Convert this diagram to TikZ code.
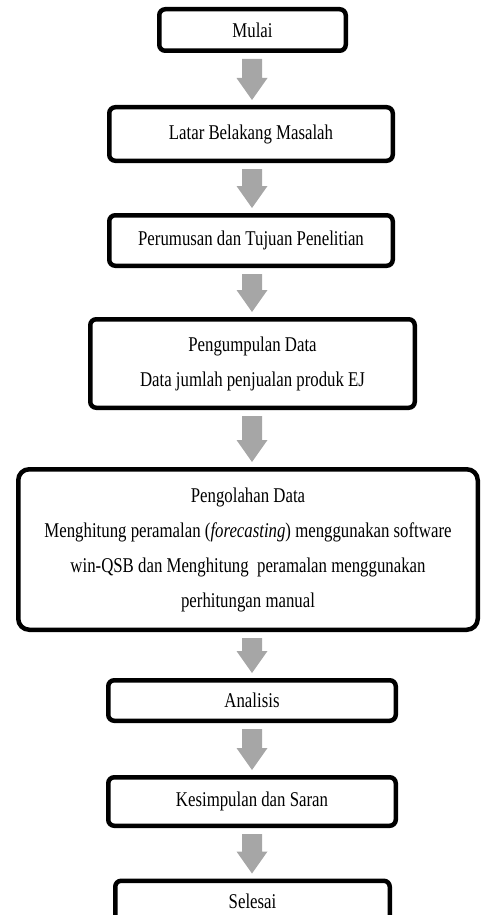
\documentclass[tikz,border=0pt]{standalone}
\usepackage{fontspec}
\setmainfont{Liberation Serif}[FakeStretch=0.8]
\usetikzlibrary{calc}
\definecolor{arrgray}{RGB}{166,166,166}
\tikzset{
  box/.style={draw=black, line width=4.5pt, rounded corners=6pt, fill=white,
    inner sep=0pt, align=center, font=\fontsize{21}{35}\selectfont},
  bigbox/.style={box, rounded corners=11pt},
  blockarrow/.style={fill=arrgray, draw=none},
}
\newcommand\flowarrow[2]{%
  \fill[blockarrow] let \p1=(#1.south), \p2=(#2.north) in
    (242pt,\y1-6pt) -- (262pt,\y1-6pt) -- (262pt,\y2+27pt) -- (267.5pt,\y2+27pt)
    -- (252pt,\y2+5pt) -- (236.5pt,\y2+27pt) -- (242pt,\y2+27pt) -- cycle;}
\begin{document}
\begin{tikzpicture}[x=1pt,y=-1pt]
\useasboundingbox (0,0) rectangle (483,915);
\node[box, minimum width=186.5pt, minimum height=41.5pt] (mulai) at (252.5,30) {Mulai};
\node[box, minimum width=283.5pt, minimum height=53.5pt] (latar) at (251,134) {Latar Belakang Masalah};
\node[box, minimum width=283.5pt, minimum height=50.5pt] (rumus) at (251,240.5) {Perumusan dan Tujuan Penelitian};
\node[box, minimum width=324.5pt, minimum height=88.5pt] (kumpul) at (252.5,363.5) {Pengumpulan Data\\Data jumlah penjualan produk EJ};
\node[bigbox, minimum width=459.5pt, minimum height=160.5pt] (olah) at (248,549.5) {Pengolahan Data\\Menghitung peramalan (\textit{forecasting}) menggunakan software\\win-QSB dan Menghitung\ \ peramalan menggunakan\\perhitungan manual};
\node[box, minimum width=287.5pt, minimum height=40.5pt] (analisis) at (252,700.5) {Analisis};
\node[box, minimum width=287.5pt, minimum height=48.5pt] (simpul) at (252,801.5) {Kesimpulan dan Saran};
\node[box, minimum width=274.5pt, minimum height=40.5pt] (selesai) at (252.5,901) {Selesai};
\flowarrow{mulai}{latar}
\flowarrow{latar}{rumus}
\flowarrow{rumus}{kumpul}
\flowarrow{kumpul}{olah}
\flowarrow{olah}{analisis}
\flowarrow{analisis}{simpul}
\flowarrow{simpul}{selesai}
\end{tikzpicture}
\end{document}
